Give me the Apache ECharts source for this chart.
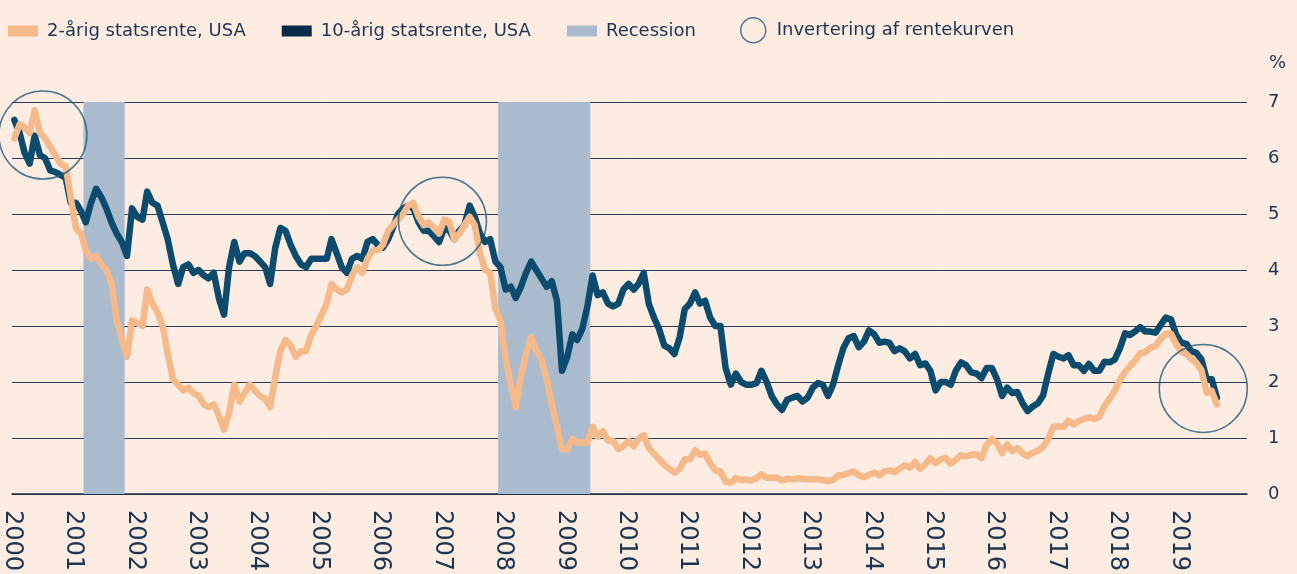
<!DOCTYPE html>
<html>
<head>
<meta charset="utf-8">
<script src="https://cdn.jsdelivr.net/npm/echarts@6/dist/echarts.min.js"></script>
<style>
  html, body { margin: 0; padding: 0; background: #fdece1; }
  #chart { width: 1297px; height: 574px; }
</style>
</head>
<body>
<div id="chart"></div>
<script>
// x-akse: årstal
var years = [2000, 2001, 2002, 2003, 2004, 2005, 2006, 2007, 2008, 2009,
             2010, 2011, 2012, 2013, 2014, 2015, 2016, 2017, 2018, 2019];
var startYear = 2000;

// 10-årig statsrente, USA (månedlig, jan 2000 - aug 2019)
var rate10y = [
  6.68, 6.45, 6.10, 5.90, 6.40, 6.05, 6.00, 5.78, 5.75, 5.70, 5.65, 5.20,
  5.20, 5.05, 4.85, 5.20, 5.45, 5.30, 5.10, 4.85, 4.65, 4.50, 4.25, 5.10,
  4.95, 4.90, 5.40, 5.20, 5.15, 4.85, 4.55, 4.10, 3.75, 4.05, 4.10, 3.95,
  4.00, 3.90, 3.85, 3.95, 3.50, 3.20, 4.05, 4.50, 4.15, 4.30, 4.30, 4.25,
  4.15, 4.05, 3.75, 4.40, 4.75, 4.70, 4.45, 4.25, 4.10, 4.05, 4.20, 4.20,
  4.20, 4.20, 4.55, 4.30, 4.05, 3.95, 4.20, 4.25, 4.20, 4.50, 4.55, 4.45,
  4.40, 4.55, 4.75, 5.00, 5.10, 5.15, 5.10, 4.85, 4.70, 4.70, 4.60, 4.50,
  4.75, 4.70, 4.55, 4.70, 4.80, 5.15, 4.95, 4.65, 4.50, 4.55, 4.15, 4.05,
  3.65, 3.70, 3.50, 3.70, 3.95, 4.15, 4.00, 3.85, 3.70, 3.80, 3.45, 2.20,
  2.45, 2.85, 2.75, 2.95, 3.35, 3.90, 3.55, 3.60, 3.40, 3.35, 3.40, 3.65,
  3.75, 3.65, 3.75, 3.95, 3.40, 3.15, 2.95, 2.65, 2.60, 2.50, 2.80, 3.30,
  3.40, 3.60, 3.40, 3.45, 3.15, 3.00, 3.00, 2.25, 1.95, 2.15, 2.00, 1.95,
  1.95, 1.98, 2.20, 2.00, 1.75, 1.60, 1.50, 1.68, 1.72, 1.75, 1.65, 1.72,
  1.90, 1.98, 1.95, 1.75, 1.95, 2.30, 2.60, 2.78, 2.82, 2.62, 2.72, 2.92,
  2.85, 2.70, 2.72, 2.70, 2.55, 2.60, 2.55, 2.42, 2.50, 2.30, 2.33, 2.20,
  1.85, 2.00, 2.00, 1.95, 2.20, 2.35, 2.30, 2.17, 2.15, 2.07, 2.25, 2.25,
  2.05, 1.75, 1.90, 1.80, 1.82, 1.62, 1.48, 1.56, 1.62, 1.76, 2.15, 2.50,
  2.45, 2.42, 2.48, 2.30, 2.30, 2.20, 2.32, 2.20, 2.20, 2.36, 2.35, 2.40,
  2.60, 2.87, 2.84, 2.90, 2.98, 2.90, 2.90, 2.88, 3.02, 3.15, 3.12, 2.85,
  2.70, 2.68, 2.55, 2.52, 2.40, 2.05, 2.05, 1.72
];

// 2-årig statsrente, USA (månedlig, jan 2000 - aug 2019)
var rate2y = [
  6.35, 6.60, 6.55, 6.45, 6.85, 6.45, 6.35, 6.20, 6.05, 5.90, 5.85, 5.30,
  4.75, 4.65, 4.35, 4.20, 4.25, 4.10, 4.00, 3.75, 3.10, 2.75, 2.45, 3.10,
  3.05, 3.00, 3.65, 3.40, 3.25, 3.00, 2.50, 2.05, 1.95, 1.85, 1.90, 1.80,
  1.75, 1.60, 1.55, 1.60, 1.40, 1.15, 1.45, 1.95, 1.65, 1.80, 1.95, 1.85,
  1.75, 1.70, 1.55, 2.10, 2.55, 2.75, 2.65, 2.45, 2.55, 2.55, 2.85, 3.00,
  3.20, 3.40, 3.75, 3.65, 3.60, 3.65, 3.90, 4.05, 3.95, 4.20, 4.35, 4.35,
  4.45, 4.70, 4.80, 4.90, 5.00, 5.15, 5.20, 4.95, 4.80, 4.85, 4.75, 4.65,
  4.90, 4.85, 4.55, 4.65, 4.80, 4.95, 4.80, 4.30, 4.00, 3.95, 3.30, 3.10,
  2.40, 1.95, 1.55, 2.10, 2.50, 2.80, 2.55, 2.40, 2.05, 1.60, 1.20, 0.80,
  0.80, 0.98, 0.92, 0.92, 0.92, 1.20, 1.02, 1.12, 0.95, 0.95, 0.80, 0.85,
  0.95, 0.85, 0.98, 1.05, 0.82, 0.72, 0.62, 0.52, 0.45, 0.38, 0.45, 0.62,
  0.62, 0.78, 0.70, 0.72, 0.55, 0.42, 0.40, 0.22, 0.20, 0.28, 0.25, 0.26,
  0.24, 0.28, 0.35, 0.29, 0.29, 0.29, 0.24, 0.27, 0.26, 0.28, 0.27, 0.26,
  0.26, 0.26, 0.25, 0.23, 0.25, 0.33, 0.34, 0.37, 0.40, 0.33, 0.30, 0.34,
  0.38, 0.33, 0.40, 0.42, 0.39, 0.45, 0.51, 0.47, 0.57, 0.45, 0.53, 0.64,
  0.55, 0.62, 0.64, 0.54, 0.61, 0.69, 0.67, 0.70, 0.71, 0.64, 0.88, 0.98,
  0.90, 0.73, 0.88, 0.77, 0.82, 0.73, 0.67, 0.74, 0.77, 0.84, 0.98, 1.20,
  1.21, 1.20, 1.31, 1.24, 1.30, 1.34, 1.37, 1.34, 1.38, 1.57, 1.70, 1.84,
  2.03, 2.18, 2.28, 2.38, 2.51, 2.53, 2.61, 2.64, 2.77, 2.86, 2.86, 2.68,
  2.54, 2.50, 2.41, 2.34, 2.21, 1.81, 1.84, 1.60
];

// recessioner (start, slut)
var recessions = [
  ['2001-03-01', '2001-11-01'],
  ['2007-12-01', '2009-06-01']
];

// inverteringer af rentekurven (midtpunkt af cirkel)
var inversions = [
  ['2000-07-03', 6.41],
  ['2007-01-04', 4.87],
  ['2019-05-26', 1.885]
];

var yTicks = [0, 1, 2, 3, 4, 5, 6, 7];

// månedsdato for indeks i
function monthDate(i) {
  var y = startYear + Math.floor(i / 12);
  var m = i % 12 + 1;
  return y + '-' + (m < 10 ? '0' : '') + m + '-15';
}

var data10y = rate10y.map(function(v, i) { return [monthDate(i), v]; });
var data2y = rate2y.map(function(v, i) { return [monthDate(i), v]; });

var textColor = '#1c3550';
var font = 'DejaVu Sans';
var DAY = 24 * 3600 * 1000;

var chart = echarts.init(document.getElementById('chart'));

var option = {
  backgroundColor: '#fdece1',
  animation: false,
  textStyle: { fontFamily: font },
  grid: {
    left: 10,
    right: 50,
    top: 102,
    bottom: 75
  },
  legend: [
    {
      left: 8,
      top: 22,
      padding: 0,
      itemWidth: 30,
      itemHeight: 11,
      itemGap: 36,
      selectedMode: false,
      textStyle: { fontSize: 18, color: textColor, fontFamily: font, padding: [0, 0, 0, 4] },
      data: [
        { name: '2-årig statsrente, USA', icon: 'rect' },
        { name: '10-årig statsrente, USA', icon: 'rect', itemStyle: { color: '#0a2b47' } },
        { name: 'Recession', icon: 'rect' }
      ]
    },
    {
      left: 740,
      top: 17,
      padding: 0,
      itemWidth: 25,
      itemHeight: 25,
      selectedMode: false,
      textStyle: { fontSize: 18, color: textColor, fontFamily: font, padding: [0, 0, 0, 6] },
      itemStyle: { color: 'rgba(0,0,0,0)', borderColor: '#1e5a78', borderWidth: 1.5 },
      data: [{ name: 'Invertering af rentekurven', icon: 'circle' }]
    }
  ],
  xAxis: {
    type: 'time',
    min: '2000-01-01',
    max: '2020-02-10',
    minInterval: 365 * DAY,
    maxInterval: 366 * DAY,
    axisLine: { show: true, lineStyle: { color: '#1c2e44', width: 1.5 } },
    axisTick: { show: false },
    splitLine: { show: false },
    axisLabel: {
      formatter: function(v) {
        var y = new Date(v).getFullYear();
        return years.indexOf(y) >= 0 ? String(y) : '';
      },
      rotate: -90,
      margin: 16,
      fontSize: 24,
      color: textColor,
      fontFamily: font,
      showMinLabel: true,
      hideOverlap: false
    }
  },
  yAxis: {
    type: 'value',
    position: 'right',
    min: yTicks[0],
    max: yTicks[yTicks.length - 1],
    interval: 1,
    name: '%',
    nameLocation: 'end',
    nameGap: 30,
    nameTextStyle: { fontSize: 18, color: textColor, align: 'left', verticalAlign: 'bottom', padding: [0, 0, 0, 22] },
    axisLine: { show: false },
    axisTick: { show: false },
    axisLabel: { margin: 21, fontSize: 18, color: textColor, fontFamily: font },
    splitLine: { lineStyle: { color: '#2a3c56', width: 1 } }
  },
  series: [
    {
      name: 'Recession',
      type: 'line',
      data: [],
      z: -1,
      color: '#aabbce',
      markArea: {
        silent: true,
        itemStyle: { color: '#aabbce' },
        data: recessions.map(function(r) { return [{ xAxis: r[0] }, { xAxis: r[1] }]; })
      }
    },
    {
      name: '10-årig statsrente, USA',
      type: 'line',
      data: data10y,
      symbol: 'none',
      color: '#0b4b6e',
      lineStyle: { width: 6.5, color: '#0b4b6e', join: 'round', cap: 'round' }
    },
    {
      name: '2-årig statsrente, USA',
      type: 'line',
      data: data2y,
      symbol: 'none',
      color: '#f6b98a',
      lineStyle: { width: 6.5, color: '#f6b98a', join: 'round', cap: 'round' }
    },
    {
      name: 'Invertering af rentekurven',
      type: 'scatter',
      data: inversions,
      symbol: 'circle',
      symbolSize: 88,
      z: 5,
      silent: true,
      itemStyle: { color: 'rgba(0,0,0,0)', borderColor: '#1e5a78', borderWidth: 1.5 }
    }
  ]
};

chart.setOption(option);

window.onresize = function() {
  chart.resize();
};
</script>
</body>
</html>
